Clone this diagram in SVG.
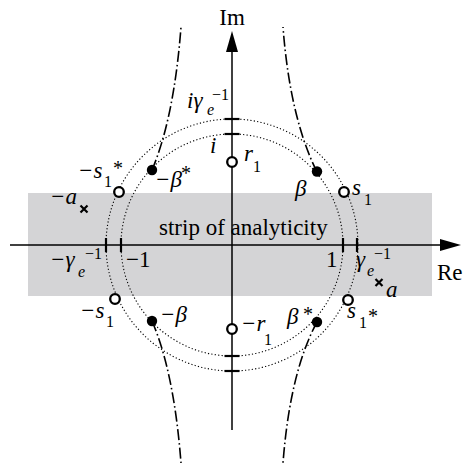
<svg xmlns="http://www.w3.org/2000/svg" width="467" height="468" viewBox="0 0 467 468">
<style>
text{font-family:"Liberation Serif","Times New Roman",serif;fill:#000}
.it{font-style:italic;font-size:23px}
.up{font-size:23px}
.sm{font-size:16px}
.smi{font-size:16px;font-style:italic}
.ast{font-size:20px}
.ax{stroke:#000;stroke-width:1.5;fill:none}
.tick{stroke:#000;stroke-width:2.2}
.dot{fill:none;stroke:#000;stroke-width:1.1;stroke-dasharray:1.2 2.2}
.dd{fill:none;stroke:#000;stroke-width:1.6;stroke-dasharray:11 3 1.6 3}
.open{fill:#fff;stroke:#000;stroke-width:2.3}
.fill{fill:#000}
.cross{stroke:#000;stroke-width:2.2}
</style>
<rect id="strip" x="28" y="193" width="404" height="103" fill="#d4d4d6"/>
<g id="circles">
<circle class="dot" cx="232" cy="245" r="111"/>
<circle class="dot" cx="232" cy="245" r="126"/>
</g>
<g id="connectors">
<path class="dd" d="M317,172 Q290,118 283,27"/>
<path class="dd" d="M152,170 Q174,118 181,27"/>
<path class="dd" d="M317,322 Q290,372 283,463"/>
<path class="dd" d="M152,321 Q174,372 181,463"/>
</g>
<g id="axes">
<line class="ax" x1="10" y1="245" x2="442" y2="245"/>
<polygon points="440,239 461,245 440,251" fill="#000"/>
<line class="ax" x1="232" y1="430" x2="232" y2="50"/>
<polygon points="226,52 232,31 238,52" fill="#000"/>
<text class="up" x="232" y="25" text-anchor="middle">Im</text>
<text class="up" x="437" y="280">Re</text>
</g>
<g id="ticks">
<line class="tick" x1="224.5" y1="134" x2="239.5" y2="134"/>
<line class="tick" x1="224.5" y1="119" x2="239.5" y2="119"/>
<line class="tick" x1="224.5" y1="356" x2="239.5" y2="356"/>
<line class="tick" x1="224.5" y1="371" x2="239.5" y2="371"/>
<line class="tick" x1="343" y1="238" x2="343" y2="252"/>
<line class="tick" x1="357" y1="238" x2="357" y2="252"/>
<line class="tick" x1="121" y1="238" x2="121" y2="252"/>
<line class="tick" x1="106" y1="238" x2="106" y2="252"/>
</g>
<text id="strip-label" class="up" x="159" y="235">strip of analyticity</text>
<g id="tick-labels">
<text class="it" x="187" y="108">iγ</text><text class="smi" x="207" y="115">e</text><text class="sm" x="212" y="100">−1</text>
<text class="it" x="210" y="153">i</text>
<text class="up" x="126" y="267">−1</text>
<text class="up" x="326" y="267">1</text>
<text class="it" x="50" y="267">−γ</text><text class="smi" x="78" y="277">e</text><text class="sm" x="85" y="259">−1</text>
<text class="it" x="356" y="267">γ</text><text class="smi" x="367" y="276">e</text><text class="sm" x="374" y="259">−1</text>
</g>
<g id="r1"><circle class="open" cx="232" cy="162" r="4.8"/><text class="it" x="244" y="161">r</text><text class="sm" x="253" y="172">1</text></g>
<g id="neg-r1"><circle class="open" cx="232" cy="329" r="4.8"/><text class="it" x="241" y="331">−r</text><text class="sm" x="264" y="345">1</text></g>
<g id="beta"><circle class="fill" cx="317" cy="171.5" r="5.2"/><text class="it" x="295" y="196">β</text></g>
<g id="neg-beta-star"><circle class="fill" cx="152" cy="170" r="5.2"/><text class="it" x="155" y="187">−β</text><text class="ast" x="181" y="180">*</text></g>
<g id="neg-beta"><circle class="fill" cx="152" cy="321" r="5.2"/><text class="it" x="160" y="322">−β</text></g>
<g id="beta-star"><circle class="fill" cx="317" cy="322" r="5.2"/><text class="it" x="287" y="324">β</text><text class="ast" x="303" y="321">*</text></g>
<g id="s1"><circle class="open" cx="344" cy="192" r="4.8"/><text class="it" x="352" y="195">s</text><text class="sm" x="364" y="205">1</text></g>
<g id="neg-s1-star"><circle class="open" cx="119" cy="192" r="4.8"/><text class="it" x="78" y="178">−s</text><text class="sm" x="104" y="187">1</text><text class="ast" x="113" y="175">*</text></g>
<g id="neg-s1"><circle class="open" cx="115" cy="299" r="4.8"/><text class="it" x="80" y="318">−s</text><text class="sm" x="106" y="327">1</text></g>
<g id="s1-star"><circle class="open" cx="348" cy="300" r="4.8"/><text class="it" x="347" y="318">s</text><text class="sm" x="359" y="328">1</text><text class="ast" x="368" y="323">*</text></g>
<g id="neg-a"><path class="cross" d="M80.5,205.5 L87.5,212.5 M87.5,205.5 L80.5,212.5"/><text class="it" x="50" y="204">−a</text></g>
<g id="a"><path class="cross" d="M375.5,279 L382.5,286 M382.5,279 L375.5,286"/><text class="it" x="386" y="297">a</text></g>
</svg>
